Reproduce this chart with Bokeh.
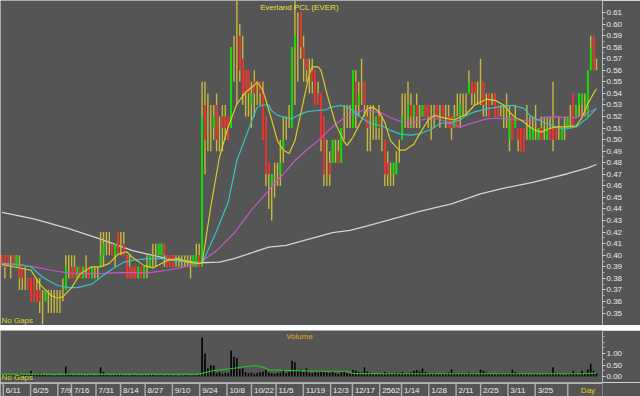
from bokeh.plotting import figure
from bokeh.layouts import column
from bokeh.models import Range1d, FixedTicker, PrintfTickFormatter, ColumnDataSource, Label
from bokeh.core.properties import value
from bokeh.embed import file_html
from bokeh.resources import INLINE

# ---------------- data (prices in satang = 1/100 baht) ----------------
open_c = [40,40,40,39,40,39,39,39,38,38, 38,38,37,37,36,36,36,36,36,36,
          36,37,37,39,39,39,38,39,38,39, 39,38,39,39,39,40,41,41,41,40,
          42,41,41,40,39,39,39,38,39,38, 39,39,40,40,40,40,41,40,40,40,
          39,39,39,39,39,39,39,39,40,39, 53,51,51,51,53,51,52,52,52,51,
          57,56,59,57,56,56,53,55,54,55, 54,52,48,46,46,47,47,49,51,52,
          51,58,59,61,58,57,56,56,56,54, 54,52,48,48,48,49,49,48,52,52,
          52,51,55,53,54,55,52,51,52,51, 52,51,50,48,47,47,47,49,50,52,
          52,53,52,53,52,52,53,53,52,52, 53,52,53,52,52,52,51,52,52,53,
          53,54,55,55,54,54,55,53,54,53, 54,53,52,52,52,50,52,51,51,51,
          51,51,50,50,51,50,51,51,50,51, 51,51,51,50,51,51,52,54,52,53,
          53,53,52,56,59,57]
high_c = [40,40,40,40,40,40,40,39,39,38, 38,38,38,38,37,37,37,37,37,37,
          37,38,40,40,40,40,39,39,39,40, 39,39,39,39,42,42,42,42,41,41,
          42,42,42,40,40,39,39,39,39,39, 40,40,41,41,41,41,41,40,40,40,
          40,40,40,40,40,40,40,41,41,55, 55,54,53,53,54,52,53,53,52,58,
          59,62,60,59,56,56,55,56,55,55, 55,52,48,47,48,48,50,52,52,53,
          58,62,61,61,59,57,57,57,56,55, 54,52,50,49,50,50,50,51,53,53,
          53,56,56,55,57,55,53,53,53,52, 53,52,50,49,48,48,49,50,54,54,
          55,54,53,54,53,53,53,53,53,53, 53,53,53,53,53,52,53,54,54,54,
          54,56,55,55,55,57,55,54,54,54, 54,53,53,53,54,53,52,53,51,51,
          51,53,52,52,53,51,52,52,52,52, 55,51,52,51,52,52,53,54,53,54,
          54,54,56,59,59,57]
low_c = [39,38,39,38,39,39,37,37,37,37, 36,36,36,35,34,36,35,35,35,35,
         35,36,37,38,38,38,38,38,38,38, 38,38,38,38,39,39,40,40,40,39,
         40,40,40,38,38,38,38,38,38,38, 38,39,39,39,40,40,39,39,39,39,
         39,39,39,39,39,38,39,39,39,39, 47,49,49,50,49,49,49,50,50,51,
         55,53,55,53,52,52,51,52,53,53, 50,46,44,43,45,46,46,48,50,51,
         51,53,55,57,55,55,54,54,53,53, 49,46,46,46,48,48,48,48,50,51,
         51,51,51,52,53,52,49,49,50,50, 50,49,46,46,46,46,47,48,50,51,
         51,51,51,51,51,52,52,51,50,51, 52,51,52,51,51,50,51,51,51,52,
         52,54,53,53,53,53,52,52,52,53, 52,52,52,51,51,49,50,51,49,49,
         49,50,50,50,50,50,50,50,50,50, 49,50,50,50,50,51,51,51,52,52,
         52,52,52,56,56,56]
close_c = [39,39,39,39,39,40,38,38,38,37, 36,36,36,36,36,37,36,36,36,36,
           36,37,39,39,38,38,39,38,39,39, 38,39,39,39,40,41,41,41,40,41,
           40,41,40,38,38,38,38,39,38,39, 39,40,40,40,41,41,40,39,39,39,
           39,39,39,39,39,39,40,40,39,52, 50,51,51,52,50,51,51,51,50,58,
           57,56,56,54,54,54,54,54,54,54, 50,47,47,47,46,47,48,50,51,52,
           58,59,59,58,57,56,56,55,53,53, 50,47,48,47,50,49,48,51,52,52,
           52,56,53,54,54,53,51,51,52,52, 51,51,47,47,47,48,48,49,52,52,
           53,52,53,52,52,53,52,52,52,52, 52,52,52,52,51,51,52,51,53,53,
           53,55,54,54,54,54,53,53,52,53, 52,52,52,52,52,52,50,52,50,49,
           49,51,51,51,51,51,50,51,51,50, 50,50,51,51,51,52,52,51,53,54,
           54,53,56,58,56,57]
# volume in 0.01 million shares
volume_c = [5,4,6,3,5,4,14,6,8,5, 25,10,12,15,10,8,6,5,4,6,
            5,6,43,12,8,6,7,5,6,4, 5,6,4,5,40,20,8,6,5,7,
            10,8,6,5,4,8,6,5,4,5, 6,7,8,6,5,7,4,5,6,4,
            5,3,4,5,6,4,5,6,7,170, 100,36,50,48,15,20,12,18,15,113,
            86,80,33,36,20,14,18,12,15,20, 22,30,18,15,12,15,18,33,15,20,
            68,62,25,30,20,36,18,15,20,18, 22,20,18,15,20,15,12,18,20,15,
            12,28,25,20,18,40,22,18,15,12, 15,12,20,15,12,14,18,15,20,12,
            15,18,25,28,22,35,20,15,12,15, 12,10,12,14,18,30,15,12,14,12,
            15,18,12,15,10,30,25,18,14,12, 10,12,15,10,12,14,30,20,15,12,
            10,12,8,10,12,10,8,10,12,10, 40,15,12,10,8,10,12,25,15,10,
            25,15,30,55,25,15]

# moving averages (bar index, price)
ma_yellow_idx = [0,10,13,17,19,21,24,27,31,34,37,40,43,45,49,52,57,61,64,68,69,72,75,78,81,84,87,88,90,93,95,97,99,101,104,106,107,109,110,112,115,118,119,121,124,126,128,130,132,134,137,139,142,144,147,149,152,156,160,163,167,170,173,175,177,179,182,184,186,188,191,194,198,200,202,204,205]
ma_yellow_val = [0.392,0.387,0.375,0.365,0.363,0.364,0.372,0.384,0.390,0.390,0.393,0.401,0.403,0.398,0.391,0.389,0.3955,0.397,0.394,0.393,0.393,0.442,0.485,0.511,0.531,0.541,0.547,0.550,0.5425,0.517,0.499,0.491,0.488,0.499,0.534,0.557,0.563,0.563,0.560,0.540,0.514,0.498,0.495,0.502,0.517,0.527,0.528,0.524,0.515,0.499,0.491,0.491,0.496,0.505,0.517,0.521,0.519,0.517,0.522,0.530,0.535,0.534,0.530,0.524,0.519,0.517,0.511,0.508,0.5065,0.509,0.511,0.511,0.512,0.519,0.531,0.540,0.544]
ma_cyan_idx = [0,6,10,14,19,23,26,31,34,38,42,45,50,55,59,64,68,69,74,78,81,84,87,88,90,92,93,95,98,100,102,105,108,112,113,117,120,124,127,131,134,137,141,144,148,151,155,158,160,163,168,173,176,180,182,184,187,191,194,198,200,202,205]
ma_cyan_val = [0.393,0.392,0.390,0.381,0.374,0.372,0.372,0.375,0.381,0.388,0.394,0.3955,0.397,0.397,0.3955,0.394,0.393,0.393,0.421,0.446,0.482,0.502,0.522,0.528,0.530,0.530,0.525,0.521,0.519,0.518,0.521,0.524,0.525,0.526,0.528,0.5296,0.527,0.519,0.514,0.512,0.508,0.505,0.504,0.505,0.509,0.514,0.515,0.517,0.521,0.524,0.527,0.529,0.5296,0.527,0.521,0.518,0.515,0.511,0.509,0.511,0.515,0.519,0.527]
ma_magenta_idx = [0,6,11,17,23,28,34,40,45,51,57,63,68,74,80,86,92,93,97,101,105,109,113,117,120,124,126,131,134,137,141,144,148,151,155,158,163,167,170,174,177,181,184,187,191,194,198,201,205]
ma_magenta_val = [0.392,0.392,0.390,0.387,0.3845,0.384,0.384,0.385,0.385,0.385,0.387,0.390,0.393,0.404,0.419,0.439,0.456,0.460,0.470,0.482,0.491,0.499,0.509,0.517,0.522,0.525,0.5252,0.523,0.519,0.516,0.5137,0.5166,0.519,0.5174,0.5137,0.511,0.515,0.518,0.5185,0.518,0.517,0.5166,0.5166,0.519,0.520,0.519,0.519,0.522,0.527]
ma_white_idx = [0,11,23,34,45,57,68,75,80,92,98,103,109,114,120,126,137,144,155,165,172,183,195,202,205]
ma_white_val = [0.437,0.4315,0.423,0.414,0.404,0.397,0.3935,0.394,0.397,0.407,0.4085,0.412,0.416,0.4195,0.4215,0.4255,0.433,0.438,0.4445,0.453,0.4575,0.463,0.4705,0.4755,0.4785]
vol_ma_idx = [0,20,40,60,68,70,73,80,84,87,90,92,101,110,119,121,130,150,170,190,200,205]
vol_ma_val = [0.10,0.10,0.10,0.10,0.10,0.17,0.26,0.36,0.43,0.48,0.41,0.29,0.26,0.23,0.23,0.14,0.13,0.12,0.12,0.12,0.12,0.15]

price_ticks = [0.35,0.36,0.37,0.38,0.39,0.40,0.41,0.42,0.43,0.44,0.45,0.46,0.47,0.48,
               0.49,0.50,0.51,0.52,0.53,0.54,0.55,0.56,0.57,0.58,0.59,0.60,0.61]
volume_ticks = [0.0, 0.5, 1.0]
date_labels = ["6/11","6/25","7/9","7/16","7/31","8/14","8/27","9/10","9/24","10/8","10/22",
               "11/5","11/19","12/3","12/17","2562","1/14","1/28","2/11","2/25","3/11","3/25"]
date_pos = [1,11,21,26,35,44,53,63,73,83,92,101,111,121,129,139,147,157,167,176,186,196]
last_price = 0.57
title_text = "Everland PCL (EVER)"

# ---------------- styling ----------------
BG = "#555555"
FONT = "Liberation Sans"
TXT = "#ececec"
PX = 2.9          # pixels per bar
X0 = -0.517       # data x at left edge
FRAME_W = 602

def xr_at(px):
    return X0 + px / PX

n = len(close_c)
idx = list(range(n))
o = [v / 100 for v in open_c]
h = [v / 100 for v in high_c]
l = [v / 100 for v in low_c]
c = [v / 100 for v in close_c]
vol = [v / 100 for v in volume_c]

def make_fig(height, x_range, y_range, right):
    f = figure(width=640, height=height, x_range=x_range, y_range=y_range,
               toolbar_location=None, output_backend="svg", title=None,
               x_axis_location=None, y_axis_location=("right" if right else None),
               min_border_left=0, min_border_right=(38 if right else 0),
               min_border_top=0, min_border_bottom=0)
    f.background_fill_color = BG
    f.border_fill_color = BG
    f.outline_line_color = None
    f.grid.visible = False
    return f

def style_axis(ax, ticks, minor, fmt):
    ax.ticker = FixedTicker(ticks=ticks, minor_ticks=minor)
    ax.formatter = PrintfTickFormatter(format=fmt)
    ax.axis_line_color = "#b8b8b8"
    ax.major_tick_line_color = "#d0d0d0"
    ax.minor_tick_line_color = "#b0b0b0"
    ax.major_tick_out = 3
    ax.major_tick_in = 0
    ax.minor_tick_out = 2
    ax.minor_tick_in = 0
    ax.major_label_standoff = 1
    ax.major_label_text_font = FONT
    ax.major_label_text_font_size = "8px"
    ax.major_label_text_color = TXT

# ---------------- price panel ----------------
p1 = make_fig(325, Range1d(X0, xr_at(FRAME_W)), Range1d(0.3392, 0.6204), True)
style_axis(p1.yaxis[0], price_ticks, [t + 0.005 for t in price_ticks[:-1]], "%.2f")

src = ColumnDataSource(dict(i=idx, o=o, h=h, l=l, c=c))
p1.line(ma_white_idx, ma_white_val, line_color="#d4d4d4", line_width=1.3)
p1.segment(x0="i", y0="l", x1="i", y1="h", source=src, line_color="#c8b83c", line_width=1.4)
up = [k for k in idx if c[k] > o[k]]
dn = [k for k in idx if c[k] < o[k]]
p1.vbar(x=up, width=0.62, top=[c[k] for k in up], bottom=[o[k] for k in up],
        fill_color="#00e400", line_color=None)
p1.vbar(x=dn, width=0.62, top=[o[k] for k in dn], bottom=[c[k] for k in dn],
        fill_color="#ee2b2b", line_color=None)
p1.line(ma_magenta_idx, ma_magenta_val, line_color="#c855c8", line_width=1.2)
p1.line(ma_cyan_idx, ma_cyan_val, line_color="#2fc4c8", line_width=1.2)
p1.line(ma_yellow_idx, ma_yellow_val, line_color="#d8cc28", line_width=1.2)

p1.text(x=[xr_at(299)], y=[0.6143], text=[title_text], text_font=value(FONT),
        text_font_size=value("8px"), text_color="#e8e040", text_align="center",
        text_baseline="middle")
p1.text(x=[xr_at(1)], y=[0.3431], text=["No Gaps"], text_font=value(FONT),
        text_font_size=value("8px"), text_color="#d8d430", text_align="left",
        text_baseline="middle")
p1.add_layout(Label(x=xr_at(604), y=last_price, text="%.2f" % last_price,
                    text_font=FONT, text_font_size="8px", text_color="#000000",
                    text_align="left", text_baseline="middle",
                    background_fill_color="#ffff00", padding=1))

# ---------------- separator ----------------
p2 = make_fig(5, Range1d(0, 640), Range1d(0, 5), False)
p2.quad(left=[0], right=[640], bottom=[3], top=[5], fill_color="#f0a000", line_color=None)
p2.quad(left=[0], right=[FRAME_W], bottom=[0.3], top=[1.8], fill_color="#d8d8d8", line_color=None)
p2.quad(left=[FRAME_W], right=[640], bottom=[0], top=[3], fill_color="#404040", line_color=None)

# ---------------- volume panel ----------------
p3 = make_fig(52, Range1d(X0, xr_at(FRAME_W)), Range1d(-0.26, 2.0), True)
style_axis(p3.yaxis[0], volume_ticks, [0.25, 0.75, 1.25, 1.5, 1.75], "%.2f")
p3.vbar(x=idx, top=vol, bottom=0, width=0.55, fill_color="#000000", line_color=None)
p3.line(vol_ma_idx, vol_ma_val, line_color="#22c422", line_width=1.2)
p3.text(x=[xr_at(299)], y=[1.75], text=["Volume"], text_font=value(FONT),
        text_font_size=value("8px"), text_color="#f0a020", text_align="center",
        text_baseline="middle")
p3.text(x=[xr_at(1)], y=[-0.22], text=["No Gaps"], text_font=value(FONT),
        text_font_size=value("8px"), text_color="#d8d430", text_align="left",
        text_baseline="bottom")
p3.add_layout(Label(x=xr_at(614), y=1.75, text="Million", text_font=FONT,
                    text_font_size="8px", text_color=TXT, text_align="left",
                    text_baseline="middle"))

# ---------------- date strip ----------------
p4 = make_fig(14, Range1d(X0, xr_at(640)), Range1d(0, 14), False)
p4.quad(left=[X0], right=[xr_at(640)], bottom=[12.6], top=[14], fill_color="#b4b4b4", line_color=None)
sep_x = [d - 0.5 for d in date_pos] + [xr_at(FRAME_W + 1)]
p4.segment(x0=sep_x, y0=[0] * len(sep_x), x1=sep_x, y1=[13] * len(sep_x),
           line_color="#a8a8a8", line_width=1.5)
p4.text(x=[d - 0.5 + 0.9 for d in date_pos], y=[6.3] * len(date_pos), text=date_labels,
        text_font=value(FONT), text_font_size=value("8px"), text_color=TXT,
        text_align="left", text_baseline="middle")
p4.text(x=[xr_at(617)], y=[6.3], text=["Day"], text_font=value(FONT),
        text_font_size=value("8px"), text_color="#e6d200", text_align="left",
        text_baseline="middle")

layout = column(p1, p2, p3, p4, spacing=0)
open("out.html", "w").write(file_html(layout, INLINE))
